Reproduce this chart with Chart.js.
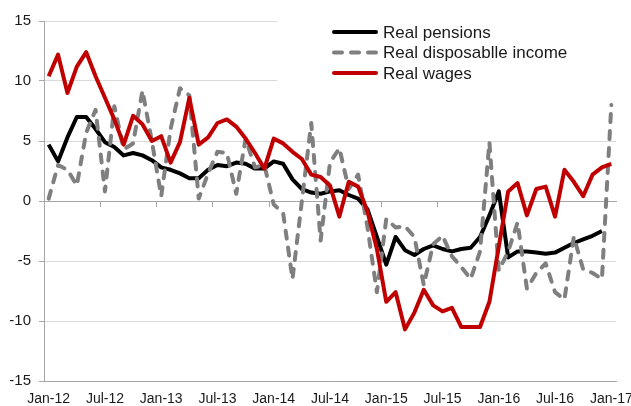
<!DOCTYPE html>
<html>
<head>
<meta charset="utf-8">
<script src="https://cdn.jsdelivr.net/npm/chart.js@4.4.1/dist/chart.umd.min.js"></script>
<style>
  html, body { margin: 0; padding: 0; background: #fff; }
  #wrap { width: 631px; height: 406px; position: relative; }
</style>
</head>
<body>
<div id="wrap"><canvas id="incomeChart"></canvas></div>
<script>
let months = [
  "Jan-12", "Feb-12", "Mar-12", "Apr-12", "May-12", "Jun-12", "Jul-12", "Aug-12", "Sep-12", "Oct-12", "Nov-12", "Dec-12",
  "Jan-13", "Feb-13", "Mar-13", "Apr-13", "May-13", "Jun-13", "Jul-13", "Aug-13", "Sep-13", "Oct-13", "Nov-13", "Dec-13",
  "Jan-14", "Feb-14", "Mar-14", "Apr-14", "May-14", "Jun-14", "Jul-14", "Aug-14", "Sep-14", "Oct-14", "Nov-14", "Dec-14",
  "Jan-15", "Feb-15", "Mar-15", "Apr-15", "May-15", "Jun-15", "Jul-15", "Aug-15", "Sep-15", "Oct-15", "Nov-15", "Dec-15",
  "Jan-16", "Feb-16", "Mar-16", "Apr-16", "May-16", "Jun-16", "Jul-16", "Aug-16", "Sep-16", "Oct-16", "Nov-16", "Dec-16",
  "Jan-17"
]

let pensions = [
  4.7, 3.3, 5.3, 7.0, 7.0, 6.0, 4.9, 4.5, 3.8, 4.0,
  3.8, 3.4, 2.8, 2.6, 2.3, 1.9, 1.9, 2.6, 3.0, 2.9,
  3.2, 3.1, 2.7, 2.7, 3.3, 3.1, 1.8, 1.0, 0.7, 0.6,
  0.8, 0.9, 0.5, 0.2, -0.7, -3.0, -5.3, -3.0, -4.1, -4.5,
  -4.0, -3.7, -4.0, -4.2, -4.0, -3.9, -3.0, -1.2, 0.8, -4.7,
  -4.2, -4.2, -4.3, -4.4, -4.3, -3.9, -3.5, -3.2, -2.9, -2.5, null
]

let disposable = [
  0.2, 3.0, 2.6, 1.3, 5.7, 7.6, 0.8, 7.9, 4.3, 4.8,
  9.2, 5.0, 0.4, 6.0, 9.4, 8.8, 0.2, 2.3, 4.1, 4.0,
  0.6, 5.2, 2.8, 3.0, -0.3, -1.0, -6.5, 0.0, 6.5, -3.3,
  3.2, 4.4, 1.0, 2.2, -2.2, -7.6, -1.5, -2.2, -2.1, -3.0,
  -7.0, -3.6, -2.9, -4.6, -5.5, -6.5, -4.2, 4.9, -5.8, -4.2,
  -1.8, -7.3, -6.0, -5.2, -7.6, -8.2, -3.0, -5.7, -6.0, -6.5, 8.0
]

let wages = [
  10.4, 12.2, 9.0, 11.2, 12.4, 10.4, 8.6, 6.8, 4.7, 7.1,
  6.4, 5.0, 5.4, 3.2, 4.9, 8.6, 4.7, 5.3, 6.5, 6.8,
  6.2, 5.2, 4.0, 2.7, 5.2, 4.8, 4.1, 3.5, 2.2, 2.0,
  1.3, -1.3, 1.6, 1.2, -0.9, -4.0, -8.4, -7.6, -10.7, -9.3,
  -7.4, -8.7, -9.2, -8.9, -10.5, -10.5, -10.5, -8.4, -3.8, 0.8,
  1.5, -1.2, 1.0, 1.2, -1.3, 2.6, 1.6, 0.4, 2.2, 2.8, 3.1
]

let seriesNames = ["Real pensions", "Real disposablle income", "Real wages"]
let seriesColors = ["#000000", "#7f7f7f", "#c00000"]

let textColor = "#1a1a1a"
let axisColor = "#a6a6a6"
let gridColor = "#d9d9d9"

// legend sits inside the plot, on a white box that hides the top gridlines
let boxLegend = {
  id: "boxLegend",
  beforeDatasetsDraw(chart) {
    let ctx = chart.ctx
    ctx.save()
    ctx.fillStyle = "#fff"
    ctx.fillRect(277, 12, chart.chartArea.right - 277 + 2, 78)
    ctx.restore()
  },
  afterDatasetsDraw(chart) {
    let ctx = chart.ctx
    ctx.save()
    chart.data.datasets.forEach((ds, i) => {
      let y = 32 + i * 20.5
      ctx.beginPath()
      ctx.strokeStyle = ds.borderColor
      ctx.lineWidth = ds.borderWidth
      ctx.lineCap = "round"
      ctx.setLineDash(ds.borderDash || [])
      ctx.moveTo(334, y)
      ctx.lineTo(376, y)
      ctx.stroke()
      ctx.setLineDash([])
      ctx.fillStyle = textColor
      ctx.font = "17px 'Liberation Sans', Arial, sans-serif"
      ctx.textBaseline = "middle"
      ctx.fillText(ds.label, 383, y + 1)
    })
    ctx.restore()
  }
}

new Chart("incomeChart", {
  type: "line",
  data: {
    labels: months,
    datasets: [{
      label: seriesNames[0],
      data: pensions,
      borderColor: seriesColors[0],
      borderWidth: 4,
      order: 2
    }, {
      label: seriesNames[1],
      data: disposable,
      borderColor: seriesColors[1],
      borderWidth: 4,
      borderDash: [8, 9],
      borderCapStyle: "round",
      order: 1
    }, {
      label: seriesNames[2],
      data: wages,
      borderColor: seriesColors[2],
      borderWidth: 4,
      order: 0
    }]
  },
  options: {
    responsive: true,
    maintainAspectRatio: false,
    animation: false,
    devicePixelRatio: 1,
    layout: { padding: { top: 21, right: 15, left: 0, bottom: 0 } },
    elements: {
      point: { radius: 0, hoverRadius: 0 },
      line: { tension: 0, borderJoinStyle: "round", fill: false }
    },
    plugins: {
      legend: { display: false },
      tooltip: { enabled: false }
    },
    scales: {
      x: {
        type: "category",
        offset: true,
        grid: { display: false, drawTicks: false, drawOnChartArea: false },
        border: { display: true, color: axisColor, width: 1 },
        ticks: {
          autoSkip: false,
          maxRotation: 0,
          padding: 10,
          color: textColor,
          font: { family: "'Liberation Sans', Arial, sans-serif", size: 14 },
          callback: function (v, i) { return i % 6 === 0 ? months[i] : "" }
        },
        afterFit: function (scale) {
          scale.paddingLeft = 0
          scale.paddingRight = 0
          scale.height = 25
        }
      },
      x2: {
        type: "category",
        position: { y: 0 },
        offset: true,
        grid: {
          drawOnChartArea: false,
          offset: true,
          tickLength: 5,
          color: ctx => ctx.index % 6 === 0 ? axisColor : "rgba(0,0,0,0)"
        },
        border: { display: true, color: axisColor, width: 1 },
        ticks: { display: false }
      },
      y: {
        min: -15,
        max: 15,
        ticks: {
          stepSize: 5,
          padding: 8,
          color: textColor,
          font: { family: "'Liberation Sans', Arial, sans-serif", size: 15 }
        },
        grid: { color: gridColor, tickColor: axisColor, tickLength: 5 },
        border: { display: true, color: axisColor, width: 1 },
        afterFit: function (scale) {
          scale.width = 44
        }
      }
    }
  },
  plugins: [boxLegend]
})
</script>
</body>
</html>
